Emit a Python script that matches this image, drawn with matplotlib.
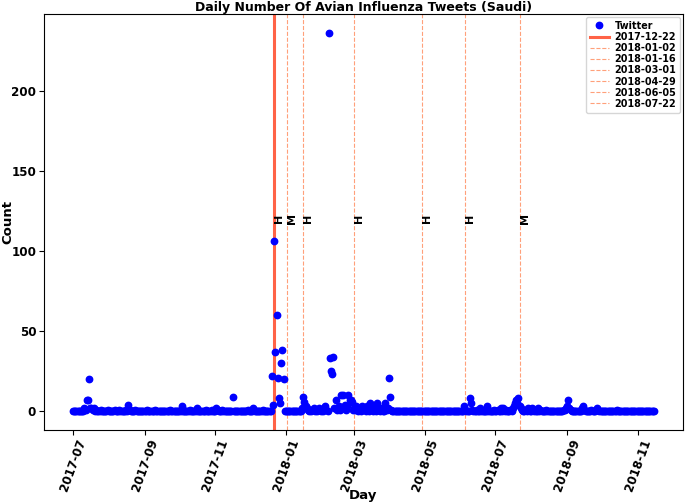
import datetime as dt
import matplotlib
matplotlib.use("Agg")
import matplotlib.pyplot as plt
import matplotlib.dates as mdates
import numpy as np

# ---- data ----
start_date = "2017-07-01"
end_date = "2018-11-15"
# non-zero daily counts (all other days are 0)
nz_dates = [
    "2017-07-11", "2017-07-12", "2017-07-13", "2017-07-14", "2017-07-15", "2017-07-16",
    "2017-07-17", "2017-07-18", "2017-07-19", "2017-07-21", "2017-07-25", "2017-07-31",
    "2017-08-06", "2017-08-10", "2017-08-16", "2017-08-18", "2017-08-19", "2017-08-24",
    "2017-09-03", "2017-09-10", "2017-09-23", "2017-10-03", "2017-10-10", "2017-10-16",
    "2017-10-24", "2017-10-29", "2017-11-02", "2017-11-03", "2017-11-07", "2017-11-16",
    "2017-11-29", "2017-12-04", "2017-12-12", "2017-12-20", "2017-12-21", "2017-12-22",
    "2017-12-23", "2017-12-24", "2017-12-25", "2017-12-26", "2017-12-27", "2017-12-28",
    "2017-12-29", "2017-12-30",
    "2018-01-15", "2018-01-16", "2018-01-17", "2018-01-18", "2018-01-19", "2018-01-20",
    "2018-01-22", "2018-01-24", "2018-01-25", "2018-01-27", "2018-01-29", "2018-01-30",
    "2018-02-01", "2018-02-03", "2018-02-04", "2018-02-05", "2018-02-07", "2018-02-08",
    "2018-02-09", "2018-02-10", "2018-02-11", "2018-02-12", "2018-02-13", "2018-02-14",
    "2018-02-15", "2018-02-16", "2018-02-17", "2018-02-18", "2018-02-19", "2018-02-20",
    "2018-02-21", "2018-02-22", "2018-02-23", "2018-02-24", "2018-02-25", "2018-02-26",
    "2018-02-27", "2018-02-28", "2018-03-01", "2018-03-02", "2018-03-03", "2018-03-05",
    "2018-03-06", "2018-03-08", "2018-03-09", "2018-03-10", "2018-03-12", "2018-03-13",
    "2018-03-15", "2018-03-16", "2018-03-18", "2018-03-19", "2018-03-21", "2018-03-22",
    "2018-03-24", "2018-03-25", "2018-03-28", "2018-03-29", "2018-03-30", "2018-03-31",
    "2018-04-01", "2018-04-02",
    "2018-06-04", "2018-06-05", "2018-06-09", "2018-06-10", "2018-06-11", "2018-06-15",
    "2018-06-18", "2018-06-24", "2018-06-30", "2018-07-03", "2018-07-06", "2018-07-08",
    "2018-07-10", "2018-07-14", "2018-07-16", "2018-07-17", "2018-07-18", "2018-07-19",
    "2018-07-20", "2018-07-21", "2018-07-22", "2018-07-23", "2018-07-24", "2018-07-27",
    "2018-07-29", "2018-07-30", "2018-08-02", "2018-08-04", "2018-08-07", "2018-08-09",
    "2018-08-14", "2018-08-29", "2018-08-30", "2018-08-31", "2018-09-01", "2018-09-02",
    "2018-09-03", "2018-09-04", "2018-09-14", "2018-09-15", "2018-09-16", "2018-09-22",
    "2018-09-26", "2018-09-27", "2018-09-28", "2018-10-14",
]
nz_counts = [
    2, 1, 7, 7, 20, 2,
    2, 1, 2, 1, 1, 1,
    1, 1, 1, 4, 1, 1,
    1, 1, 1, 3, 1, 2,
    1, 1, 2, 1, 1, 9,
    1, 2, 1, 22, 4, 106,
    37, 60, 21, 8, 5, 30,
    38, 20,
    2, 9, 6, 3, 2, 1,
    1, 1, 2, 1, 1, 2,
    1, 2, 3, 1, 236, 33,
    25, 23, 34, 2, 7, 1,
    2, 3, 1, 10, 10, 2,
    4, 1, 3, 10, 7, 7,
    6, 1, 2, 1, 3, 2,
    1, 3, 1, 2, 3, 1,
    5, 2, 1, 3, 5, 1,
    2, 1, 5, 1, 2, 21,
    9, 1,
    3, 1, 8, 5, 1, 1,
    2, 3, 1, 1, 2, 2,
    1, 1, 2, 3, 5, 7,
    5, 8, 3, 2, 1, 1,
    2, 1, 2, 1, 2, 1,
    1, 1, 1, 2, 3, 7,
    2, 1, 2, 3, 1, 1,
    1, 2, 1, 1,
]
event_dates = ["2017-12-22", "2018-01-02", "2018-01-16", "2018-03-01",
               "2018-04-29", "2018-06-05", "2018-07-22"]
event_labels = ["H", "M", "H", "H", "H", "H", "M"]

# ---- build daily series ----
d0 = dt.date.fromisoformat(start_date)
d1 = dt.date.fromisoformat(end_date)
days = [d0 + dt.timedelta(days=i) for i in range((d1 - d0).days + 1)]
lookup = {dt.date.fromisoformat(d): c for d, c in zip(nz_dates, nz_counts)}
counts = [lookup.get(d, 0) for d in days]

plt.rcParams['font.family'] = ['DejaVu Sans']
plt.rcParams['font.weight'] = 'bold'
plt.rcParams['axes.titleweight'] = 'bold'
plt.rcParams['axes.labelweight'] = 'bold'

fig = plt.figure(figsize=(6.85, 5.03), dpi=100)
ax = fig.add_axes([0.064, 0.145, 0.933, 0.827])

ax.plot(days, counts, 'o', color='blue', markersize=4.6, label='Twitter', zorder=3)

for i, (ed, lab) in enumerate(zip(event_dates, event_labels)):
    d = dt.date.fromisoformat(ed)
    if i == 0:
        ax.axvline(d, color='tomato', lw=2.2, label=ed, zorder=2)
    else:
        ax.axvline(d, color='lightsalmon', lw=0.8, ls='--', label=ed, zorder=2)
    ax.text(d, 120, lab, rotation=90, ha='left', va='center',
            fontsize=8, fontweight='heavy')

ax.xaxis.set_major_locator(mdates.MonthLocator(bymonth=[1, 3, 5, 7, 9, 11]))
ax.xaxis.set_major_formatter(mdates.DateFormatter('%Y-%m'))
ax.set_yticks([0, 50, 100, 150, 200])
ax.tick_params(axis='x', labelsize=8.6, labelrotation=70, pad=2)
ax.tick_params(axis='y', labelsize=8.6, pad=2)
fig.canvas.draw()
for lbl in ax.get_xticklabels() + ax.get_yticklabels():
    lbl.set_fontweight('heavy')

ax.set_title('Daily Number Of Avian Influenza Tweets (Saudi)', fontsize=9,
             fontweight='heavy', pad=2)
ax.set_xlabel('Day', fontsize=9.5, fontweight='heavy')
ax.set_ylabel('Count', fontsize=9.5, fontweight='heavy')
ax.xaxis.set_label_coords(0.5, -0.142)
ax.yaxis.set_label_coords(-0.046, 0.5)

leg = ax.legend(loc='upper right', prop={'weight': 'heavy', 'size': 6.9},
                labelspacing=0.12, handlelength=2.0, handletextpad=0.6,
                borderpad=0.4, borderaxespad=0.3)

fig.savefig('out.png', dpi=100)
